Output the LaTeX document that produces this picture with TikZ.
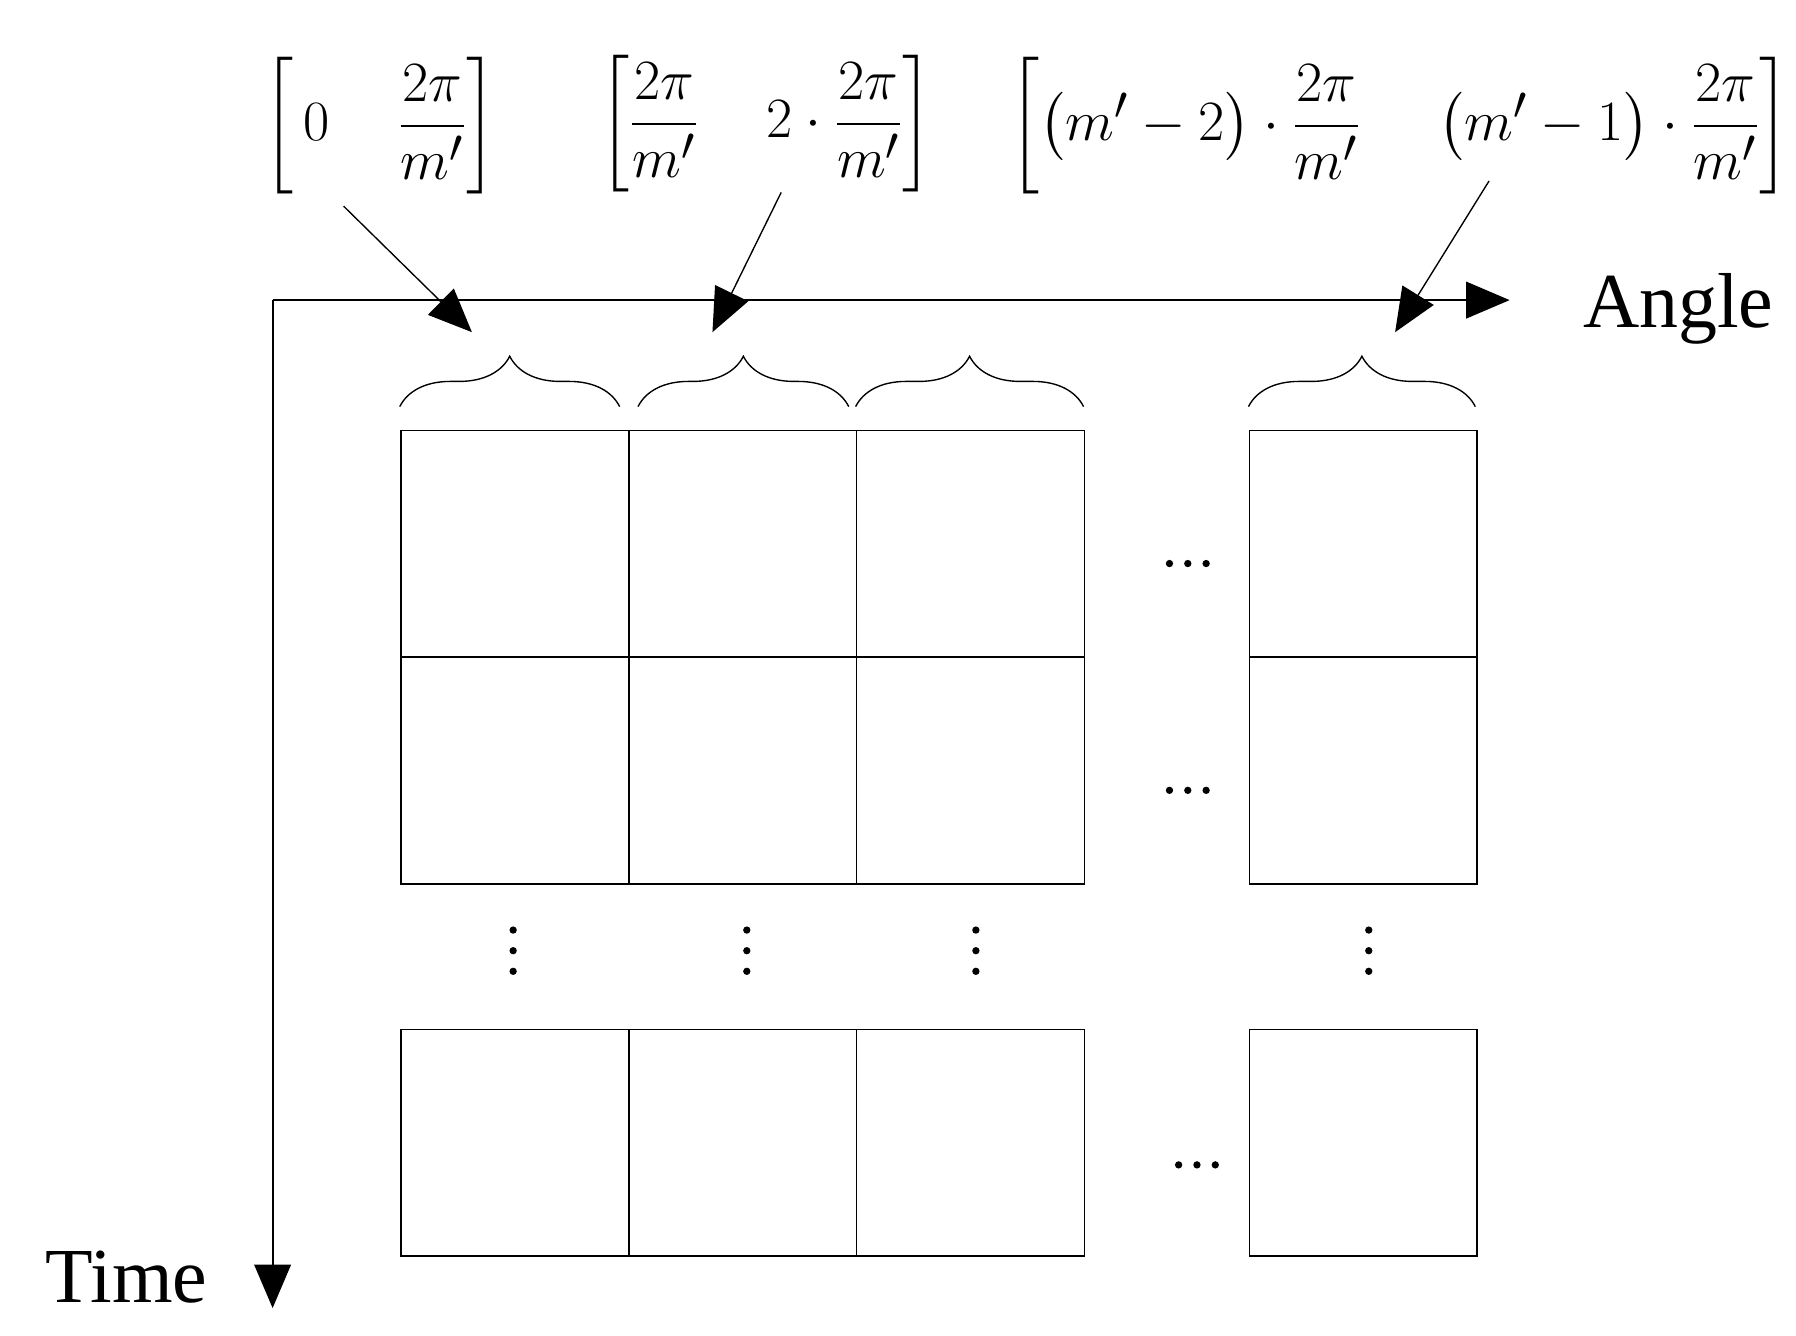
\documentclass[tikz,border=0pt]{standalone}
\usepackage{amsmath}
\usepackage{fontspec}
\setmainfont{Liberation Serif}
\usetikzlibrary{arrows.meta,decorations.pathreplacing}
\begin{document}
\begin{tikzpicture}[x=0.5pt,y=-0.5pt,
  cell/.style={draw,line width=0.8pt,minimum width=99.5pt,minimum height=99pt,inner sep=0,anchor=north west},
  tip/.style={-{Triangle[length=19pt,width=16pt]}},
  br/.style={decorate,decoration={brace,amplitude=22pt,aspect=0.5},line width=0.6pt},
  lab/.style={font=\fontsize{30}{36}\selectfont},
  big/.style={font=\fontsize{34}{40}\selectfont}]
\useasboundingbox (0,0) rectangle (1568,1166);
% axes
\coordinate (O) at (238,262);
\coordinate (AE) at (1318,262);
\coordinate (TE) at (238,1142);
\draw[line width=0.8pt,tip] (O) -- (AE);
\draw[line width=0.8pt,tip] (O) -- (TE);
\node[big,anchor=west] (angle) at (1375,270) {Angle};
\node[big,anchor=east] (time) at (188,1115) {Time};
% grid
\foreach \c/\x in {1/349,2/548,3/747,4/1090}{
  \foreach \r/\y in {1/375,2/573,3/898}{
    \node[cell] (c\c\r) at (\x,\y) {};
  }
}
% dots
\foreach \x in {448,652,852,1195}{
  \foreach \y in {812,830,848}{\fill (\x,\y) circle (1.6pt);}
}
\foreach \y/\x in {492/1037,690/1037,1017/1045}{
  \foreach \d in {-16,0,16}{\fill (\x+\d,\y) circle (1.6pt);}
}
% braces
\coordinate (b1a) at (349,355); \coordinate (b1b) at (541,355);
\coordinate (b2a) at (557,355); \coordinate (b2b) at (741,355);
\coordinate (b3a) at (747,355); \coordinate (b3b) at (946,355);
\coordinate (b4a) at (1090,355); \coordinate (b4b) at (1288,355);
\draw[br] (b1a) -- (b1b);
\draw[br] (b2a) -- (b2b);
\draw[br] (b3a) -- (b3b);
\draw[br] (b4a) -- (b4b);
% labels
\node[lab] (l1) at (332,110) {$\left[\,0\quad\dfrac{2\pi}{m'}\right]$};
\node[lab] (l2) at (669,108) {$\left[\dfrac{2\pi}{m'}\quad 2\cdot\dfrac{2\pi}{m'}\right]$};
\node[lab] (l3) at (1222,110) {$\left[\left(m'-2\right)\cdot\dfrac{2\pi}{m'}\quad\left(m'-1\right)\cdot\dfrac{2\pi}{m'}\right]$};
% pointers
\coordinate (p1s) at (300,180); \coordinate (p1e) at (412,290);
\coordinate (p2s) at (682,168); \coordinate (p2e) at (622,290);
\coordinate (p3s) at (1300,158); \coordinate (p3e) at (1218,290);
\draw[line width=0.6pt,tip] (p1s) -- (p1e);
\draw[line width=0.6pt,tip] (p2s) -- (p2e);
\draw[line width=0.6pt,tip] (p3s) -- (p3e);
\end{tikzpicture}
\end{document}
